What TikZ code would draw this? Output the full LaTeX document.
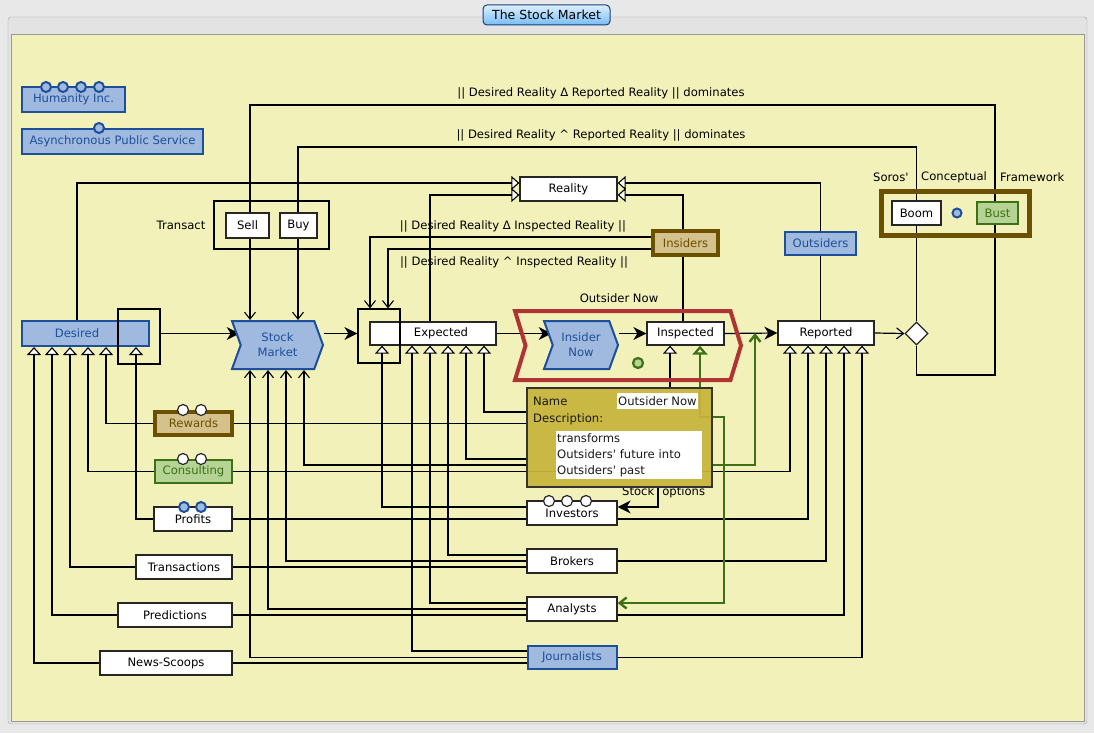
\documentclass[tikz,border=0pt]{standalone}
\usepackage{fontspec}
\setmainfont{DejaVu Sans}
\usetikzlibrary{arrows.meta,shapes.symbols,shapes.geometric}
\definecolor{bgout}{RGB}{232,232,232}
\definecolor{panel}{RGB}{242,241,185}
\definecolor{bfill}{RGB}{160,185,222}
\definecolor{bdraw}{RGB}{30,79,154}
\definecolor{tfill}{RGB}{212,193,140}
\definecolor{tdraw}{RGB}{107,80,0}
\definecolor{gfill}{RGB}{181,211,148}
\definecolor{gdraw}{RGB}{62,112,21}
\definecolor{rdraw}{RGB}{176,52,52}
\definecolor{tipc}{RGB}{200,180,60}
\definecolor{btop}{RGB}{220,240,255}
\definecolor{bbot}{RGB}{120,188,245}
\pgfdeclarelayer{back}
\pgfdeclarelayer{edges}
\pgfdeclarelayer{front}
\pgfsetlayers{back,edges,main,front}
\tikzset{
  every node/.style={font=\fontsize{11.6}{15}\selectfont, inner sep=0pt},
  wbox/.style={draw=black!85, fill=white, line width=1.3pt, text=black},
  bbox/.style={draw=bdraw, fill=bfill, line width=2pt, text=bdraw},
  tbox/.style={draw=tdraw, fill=tfill, line width=4pt, text=tdraw},
  gbox/.style={draw=gdraw, fill=gfill, line width=2.5pt, text=gdraw},
  frm/.style={draw=black, line width=1.2pt, fill=none},
  conn/.style={draw=black, line width=1.2pt},
  tri/.style={conn, -{Triangle[length=8pt,width=14pt,fill=white,line width=1.1pt]}},
  vee/.style={conn, -{Straight Barb[length=7pt,width=11pt,line width=1.1pt]}},
  fil/.style={conn, -{Stealth[length=13pt,width=13pt,inset=4pt]}},
  gline/.style={draw=gdraw, line width=2.4pt},
  chev/.style={signal, signal to=east, signal from=west, signal pointer angle=140,
    draw=bdraw, fill=bfill, line width=2pt, text=bdraw, align=center},
  lbl/.style={text=black},
  wdot/.style={fill=white, draw=black!85, line width=1.2pt},
  bdot/.style={fill=bfill, draw=bdraw, line width=2pt},
}
\begin{document}
\begin{tikzpicture}[x=1pt,y=-1pt]
\useasboundingbox (0,0) rectangle (1094,733);
\begin{pgfonlayer}{back}
\fill[bgout] (0,0) rectangle (1094,733);
\draw[draw=black!35, fill=black!11, rounded corners=3pt] (8,17) rectangle (1087,724);
\draw[draw=black!40, fill=panel] (11,34) rectangle (1084,721);
\end{pgfonlayer}

% title
\node[draw=bdraw!80!black, top color=btop, bottom color=bbot, rounded corners=4pt,
  minimum width=127pt, minimum height=20pt, line width=1pt,
  font=\fontsize{12.5}{14}\selectfont] (title) at (546.5,15) {The Stock Market};

% nodes
\node[bbox, minimum width=103pt, minimum height=25pt] (humanity) at (73.5,99.5) {Humanity Inc.};
\node[bbox, minimum width=181pt, minimum height=25pt] (aps) at (112.5,141.5) {Asynchronous Public Service};
\node[bbox, minimum width=127pt, minimum height=25pt] (desired) at (85.5,333.5) {\kern-17pt Desired};
\node[chev, minimum width=91pt, minimum height=48pt] (stockmarket) at (277.5,345) {Stock\\Market};
\node[wbox, minimum width=126pt, minimum height=23pt] (expected) at (433,333.5) {\kern16pt Expected};
\node[chev, minimum width=74pt, minimum height=48pt] (insidernow) at (581,345) {Insider\\Now};
\node[wbox, minimum width=77pt, minimum height=23pt] (inspected) at (685.5,333.5) {Inspected};
\node[wbox, minimum width=96pt, minimum height=24pt] (reported) at (826,333) {Reported};
\node[diamond, draw=black!85, fill=white, line width=1.2pt, minimum width=23pt, minimum height=23pt] (dia) at (916.5,333.5) {};
\node[wbox, minimum width=97pt, minimum height=24pt] (reality) at (568.5,189) {Reality};
\node[tbox, minimum width=65pt, minimum height=24pt] (insiders) at (685.5,243) {Insiders};
\node[bbox, minimum width=71pt, minimum height=23pt] (outsiders) at (820.5,243.5) {Outsiders};
\node[wbox, minimum width=49pt, minimum height=24pt] (boom) at (916.5,213) {Boom};
\node[gbox, minimum width=41pt, minimum height=22pt] (bust) at (997.5,213) {Bust};
\node[wbox, minimum width=43pt, minimum height=25pt] (sell) at (247.5,225.5) {Sell};
\node[wbox, minimum width=37pt, minimum height=25pt] (buy) at (298.5,225.5) {Buy};
\node[tbox, minimum width=77pt, minimum height=23pt] (rewards) at (193.5,423.5) {Rewards};
\node[gbox, minimum width=77pt, minimum height=23pt] (consulting) at (193.5,471.5) {Consulting};
\node[wbox, minimum width=78pt, minimum height=24pt] (profits) at (193,519) {Profits};
\node[wbox, minimum width=96pt, minimum height=24pt] (transactions) at (184,567) {Transactions};
\node[wbox, minimum width=114pt, minimum height=24pt] (predictions) at (175,615) {Predictions};
\node[wbox, minimum width=132pt, minimum height=24pt] (newsscoops) at (166,663) {News-Scoops};
\node[wbox, minimum width=90pt, minimum height=24pt] (investors) at (572,513) {Investors};
\node[wbox, minimum width=90pt, minimum height=24pt] (brokers) at (572,561) {Brokers};
\node[wbox, minimum width=90pt, minimum height=24pt] (analysts) at (572,609) {Analysts};
\node[bbox, minimum width=89pt, minimum height=23pt] (journalists) at (572,657.5) {Journalists};

% dots
\foreach \x in {46,63,81,99} \filldraw[bdot] (\x,87) circle (5pt);
\filldraw[bdot] (99,128) circle (5pt);
\foreach \x in {183,201} \filldraw[wdot] (\x,410) circle (5.5pt);
\foreach \x in {183,201} \filldraw[wdot] (\x,459) circle (5.5pt);
\foreach \x in {184,201} \filldraw[bdot] (\x,507) circle (5pt);
\foreach \x in {549,567,586} \filldraw[wdot] (\x,501) circle (5.5pt);
\filldraw[bdot] (957,213) circle (4.5pt);
\filldraw[fill=gfill, draw=gdraw, line width=2.2pt] (638,363) circle (5pt);

% labels
\node[lbl] (lab1) at (601,93) {|| Desired Reality Δ Reported Reality || dominates};
\node[lbl] (lab2) at (601,135) {|| Desired Reality \textasciicircum\ Reported Reality || dominates};
\node[lbl] (lab3) at (513,226) {|| Desired Reality Δ Inspected Reality ||};
\node[lbl] (lab4) at (514,262) {|| Desired Reality \textasciicircum\ Inspected Reality ||};
\node[lbl] (lab5) at (181,225) {Transact};
\node[lbl] (lab6) at (619,298) {Outsider Now};
\node[lbl, anchor=west] (lab7) at (873,177) {Soros\textquotesingle};
\node[lbl, anchor=west] (lab8) at (921,177) {Conceptual};
\node[lbl, anchor=west] (lab9) at (1000,177) {Framework};
\node[lbl, anchor=west] (lab10) at (622,492) {Stock\hspace{8pt}options};

\begin{pgfonlayer}{front}
\node[frm, minimum width=42pt, minimum height=55pt] (dframe) at (139,336.5) {};
\node[frm, minimum width=42pt, minimum height=54pt] (expframe) at (379,336) {};
\node[frm, minimum width=115pt, minimum height=48pt] (transact) at (271.5,225) {};
\node[draw=tdraw, line width=5pt, minimum width=148pt, minimum height=44pt] (soros) at (955.5,213.5) {};
\node[signal, signal to=east, signal from=west, signal pointer angle=146, draw=rdraw,
  line width=4pt, minimum width=226pt, minimum height=69pt] (outsidernow) at (628,345.5) {};
\node[draw=black!80, fill=tipc, fill opacity=0.93, line width=1.2pt,
  minimum width=185pt, minimum height=99pt] (tooltip) at (619.5,437.5) {};
\node[anchor=west, text=black!90] (tname) at (533,401) {Name};
\node[anchor=west, fill=white, minimum height=16pt, inner xsep=1pt, text=black!90] (tval) at (617,401) {Outsider Now};
\node[anchor=west, text=black!90] (tdesc) at (533,419) {Description:};
\node[anchor=north west, fill=white, text width=144pt, align=left, inner xsep=1pt, inner ysep=1pt,
  minimum height=48pt, text=black!90, font=\fontsize{11.6}{16}\selectfont] (tdval) at (556,431)
  {transforms\\Outsiders\textquotesingle\ future into\\Outsiders\textquotesingle\ past};
\end{pgfonlayer}

\begin{pgfonlayer}{edges}
% to reality
\draw[tri] (77,0 |- desired.north) |- ([yshift=6pt]reality.west);
\draw[tri] (430,0 |- expected.north) |- ([yshift=-6pt]reality.west);
\draw[tri] (outsiders.north) |- ([yshift=6pt]reality.east);
\draw[tri] (683,0 |- insiders.north) |- ([yshift=-6pt]reality.east);
\draw[conn] (683,0 |- insiders.south) -- (683,0 |- inspected.north);
\draw[conn] (outsiders.south) -- (outsiders.south |- reported.north);
% insiders to expected frame
\draw[vee] ([yshift=6pt]insiders.west) -| (370,0 |- expframe.north);
\draw[vee] ([yshift=-6pt]insiders.west) -| (388,0 |- expframe.north);
% dominates loops
\draw[vee] (dia.south) |- (995,375) |- (250,105) -- (250,0 |- stockmarket.north);
\draw[vee] (dia.north) |- (298,147) -- (298,0 |- stockmarket.north);
% main flow
\draw[fil] (dframe.east |- desired.east) -- (stockmarket.west |- desired.east);
\draw[fil] (stockmarket.east |- expected.west) -- (expframe.west |- expected.west);
\draw[fil] (expected.east) -- (insidernow.west |- expected.east);
\draw[fil] (insidernow.east |- inspected.west) -- (inspected.west);
\draw[fil] (inspected.east) -- (reported.west);
\draw[vee] (reported.east) -- (dia.west);
% into desired
\draw[tri] (newsscoops.west) -| (34,0 |- desired.south);
\draw[tri] (predictions.west) -| (52,0 |- desired.south);
\draw[tri] (transactions.west) -| (70,0 |- desired.south);
\draw[tri] (consulting.west) -| (88,0 |- desired.south);
\draw[tri] (rewards.west) -| (106,0 |- desired.south);
\draw[tri] (profits.west) -| (136,0 |- desired.south);
% into stock market
\draw[vee] (tooltip.west |- 0,465) -| (304,0 |- stockmarket.south);
\draw[vee] (brokers.west) -| (286,0 |- stockmarket.south);
\draw[vee] (analysts.west) -| (268,0 |- stockmarket.south);
\draw[vee] (journalists.west) -| (250,0 |- stockmarket.south);
% into expected
\draw[tri] ([yshift=6pt]investors.west) -| (382,0 |- expected.south);
\draw[tri] ([yshift=6.5pt]journalists.west) -| (412,0 |- expected.south);
\draw[tri] ([yshift=6pt]analysts.west) -| (430,0 |- expected.south);
\draw[tri] ([yshift=6pt]brokers.west) -| (448,0 |- expected.south);
\draw[tri] (tooltip.west |- 0,459) -| (466,0 |- expected.south);
\draw[tri] (tooltip.west |- 0,412) -| (484,0 |- expected.south);
% plain links
\draw[conn] (rewards.east) -- (rewards.east -| tooltip.west);
\draw[conn] (transactions.east) -- (transactions.east -| brokers.west);
\draw[conn] (newsscoops.east) -- (newsscoops.east -| journalists.west);
% into reported
\draw[tri] (consulting.east) -| (790,0 |- reported.south);
\draw[tri] (profits.east) -| (808,0 |- reported.south);
\draw[tri] (brokers.east) -| (826,0 |- reported.south);
\draw[tri] (predictions.east) -| (844,0 |- reported.south);
\draw[tri] (journalists.east) -| (862,0 |- reported.south);
% inspected & stock options
\draw[tri] (tooltip.north -| 670,0) -- (670,0 |- inspected.south);
\draw[fil] (658,0 |- tooltip.south) |- ([yshift=6pt]investors.east);
% green
\draw[gline, {Straight Barb[length=7pt,width=11pt]}-{Triangle[open,length=9pt,width=15pt]}]
  ([yshift=6pt]analysts.east) -| (724,417) -| (700,0 |- inspected.south);
\draw[gline, -{Straight Barb[length=7pt,width=11pt]}] (tooltip.east |- 0,465) -| (755,0 |- reported.west);
\end{pgfonlayer}
\end{tikzpicture}
\end{document}
